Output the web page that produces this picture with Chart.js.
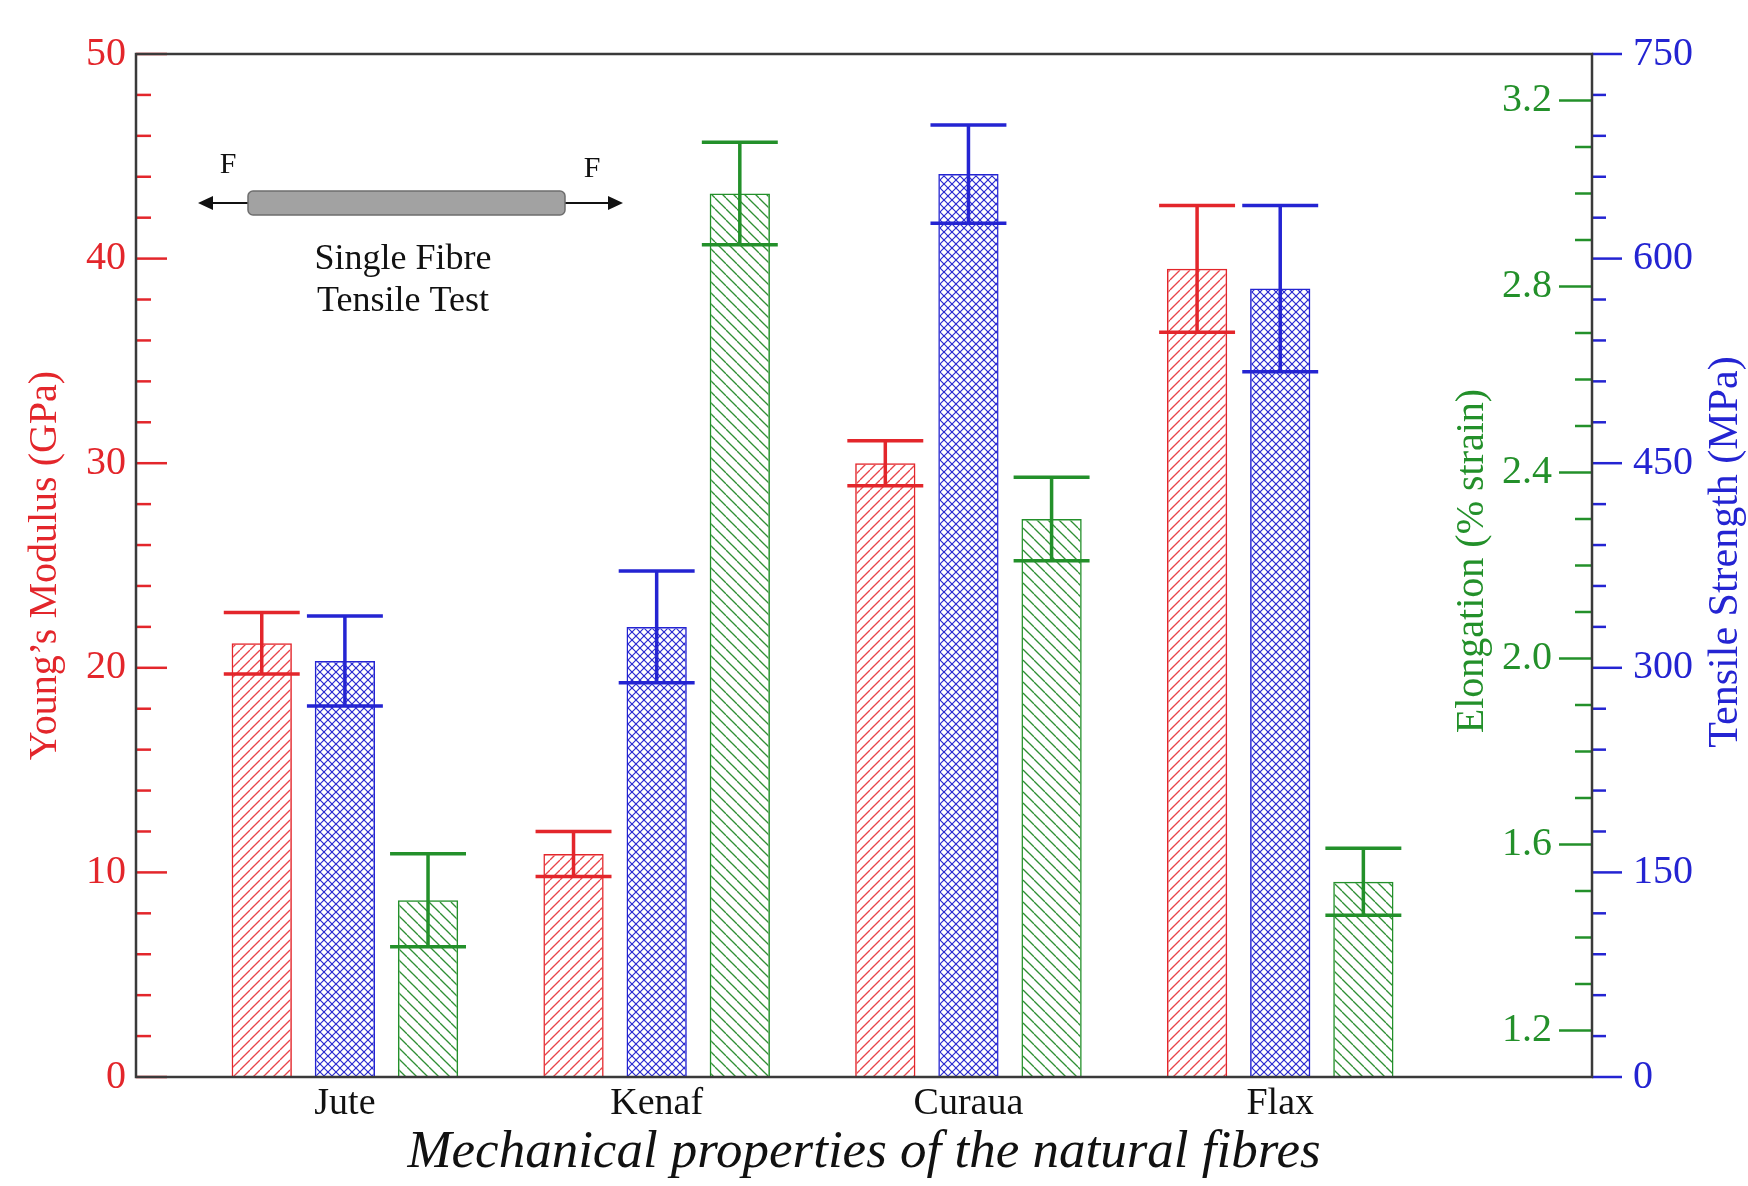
<!DOCTYPE html>
<html>
<head>
<meta charset="utf-8">
<title>Mechanical properties of the natural fibres</title>
<script src="https://cdn.jsdelivr.net/npm/chart.js@4.4.1/dist/chart.umd.min.js"></script>
<style>
    html, body { margin: 0; padding: 0; background: #fff; }
    #wrap { width: 1748px; height: 1186px; }
</style>
</head>
<body>
<div id="wrap"><canvas id="fibreChart" width="1748" height="1186"></canvas></div>
<script>
// Data
const categories = ['Jute', 'Kenaf', 'Curaua', 'Flax'];
const modulus = [21.2, 10.9, 30.0, 39.5];          // GPa
const modulusErr = [1.5, 1.1, 1.1, 3.1];
const strength = [305, 330, 662, 578];              // MPa
const strengthErr = [33, 41, 36, 61];
const elongation = [1.48, 3.0, 2.3, 1.52];          // % strain
const elongationErr = [0.1, 0.11, 0.09, 0.072];

const modulusTicks = [0, 10, 20, 30, 40, 50];
const strengthTicks = [0, 150, 300, 450, 600, 750];
const elongationTicks = [1.2, 1.6, 2.0, 2.4, 2.8, 3.2];

const RED = '#e3262b';
const BLUE = '#2424d2';
const GREEN = '#23902a';
const SERIF = "'Liberation Serif', 'DejaVu Serif', serif";

Chart.defaults.font.family = SERIF;

// Hatch fill, "/" or "\" lines in a square tile
function hatch(color, size, dirs, lw) {
    const c = document.createElement('canvas');
    c.width = size;
    c.height = size;
    const g = c.getContext('2d');
    g.strokeStyle = color;
    g.lineWidth = lw;
    dirs.forEach(d => {
        for (let k = -1; k <= 1; k++) {
            g.beginPath();
            if (d === '/') {
                g.moveTo(k * size, size);
                g.lineTo(k * size + size, 0);
            } else {
                g.moveTo(k * size, 0);
                g.lineTo(k * size + size, size);
            }
            g.stroke();
        }
    });
    return g.createPattern(c, 'repeat');
}

const pts = arr => arr.map((v, i) => ({ x: i, y: v }));

// Keep tick-label padding from pushing the plot area down
function fixWidth(w) {
    return s => {
        s.width = w;
        s.paddingTop = 0;
        s.paddingBottom = 0;
    };
}

// Error bars drawn through each dataset's own y scale
const errorBars = {
    id: 'errorBars',
    afterDatasetsDraw(chart) {
        const ctx = chart.ctx;
        chart.data.datasets.forEach((ds, di) => {
            const meta = chart.getDatasetMeta(di);
            const ys = chart.scales[ds.yAxisID];
            ctx.save();
            ctx.strokeStyle = ds.borderColor;
            ctx.lineWidth = 3.5;
            meta.data.forEach((bar, i) => {
                const v = ds.data[i].y;
                const e = ds.err[i];
                const yHi = ys.getPixelForValue(v + e);
                const yLo = ys.getPixelForValue(v - e);
                const half = bar.width * 0.63;
                ctx.beginPath();
                ctx.moveTo(bar.x, yHi);
                ctx.lineTo(bar.x, yLo);
                ctx.moveTo(bar.x - half, yHi);
                ctx.lineTo(bar.x + half, yHi);
                ctx.moveTo(bar.x - half, yLo);
                ctx.lineTo(bar.x + half, yLo);
                ctx.stroke();
            });
            ctx.restore();
        });
    }
};

// Frame, major/minor ticks, green axis inside the plot, right titles, inset sketch
const axesDecor = {
    id: 'axesDecor',
    beforeDraw(chart) {
        const ctx = chart.ctx;
        ctx.save();
        ctx.fillStyle = '#fff';
        ctx.fillRect(0, 0, chart.width, chart.height);
        ctx.restore();
    },
    afterDraw(chart) {
        const { ctx, chartArea: a, scales } = chart;
        ctx.save();

        ctx.lineWidth = 2.5;
        // red ticks, inward from the left axis
        ctx.strokeStyle = RED;
        for (let k = 0; k <= 25; k++) {
            const y = scales.yMod.getPixelForValue(k * 2);
            const len = k % 5 === 0 ? 31 : 15;
            ctx.beginPath();
            ctx.moveTo(a.left, y);
            ctx.lineTo(a.left + len, y);
            ctx.stroke();
        }
        // blue ticks, outward from the right axis
        ctx.strokeStyle = BLUE;
        for (let k = 0; k <= 25; k++) {
            const y = scales.yTs.getPixelForValue(k * 30);
            const len = k % 5 === 0 ? 30 : 14;
            ctx.beginPath();
            ctx.moveTo(a.right, y);
            ctx.lineTo(a.right + len, y);
            ctx.stroke();
        }
        // green ticks, inward from the right axis
        ctx.strokeStyle = GREEN;
        for (let k = 0; k <= 20; k++) {
            const y = scales.yEl.getPixelForValue(1.2 + k * 0.1);
            const len = k % 4 === 0 ? 33 : 17;
            ctx.beginPath();
            ctx.moveTo(a.right, y);
            ctx.lineTo(a.right - len, y);
            ctx.stroke();
        }
        ctx.fillStyle = GREEN;
        ctx.font = '40px ' + SERIF;
        ctx.textAlign = 'right';
        ctx.textBaseline = 'middle';
        elongationTicks.forEach(v => {
            ctx.fillText(v.toFixed(1), a.right - 40, scales.yEl.getPixelForValue(v));
        });

        // frame
        ctx.strokeStyle = '#3a3a3a';
        ctx.lineWidth = 2.5;
        ctx.strokeRect(a.left, a.top, a.right - a.left, a.bottom - a.top);

        // rotated titles on the right
        ctx.textAlign = 'center';
        ctx.save();
        ctx.translate(1472, 561);
        ctx.rotate(-Math.PI / 2);
        ctx.fillStyle = GREEN;
        ctx.font = '40px ' + SERIF;
        ctx.fillText('Elongation (% strain)', 0, 0);
        ctx.restore();
        ctx.save();
        ctx.translate(1726, 552);
        ctx.rotate(-Math.PI / 2);
        ctx.fillStyle = BLUE;
        ctx.font = '42px ' + SERIF;
        ctx.fillText('Tensile Strength (MPa)', 0, 0);
        ctx.restore();

        // inset: single fibre under tension
        ctx.strokeStyle = '#111';
        ctx.fillStyle = '#111';
        ctx.lineWidth = 2;
        ctx.beginPath();
        ctx.moveTo(205, 203);
        ctx.lineTo(248, 203);
        ctx.moveTo(565, 203);
        ctx.lineTo(616, 203);
        ctx.stroke();
        ctx.beginPath();
        ctx.moveTo(198, 203);
        ctx.lineTo(213, 196);
        ctx.lineTo(213, 210);
        ctx.closePath();
        ctx.fill();
        ctx.beginPath();
        ctx.moveTo(623, 203);
        ctx.lineTo(608, 196);
        ctx.lineTo(608, 210);
        ctx.closePath();
        ctx.fill();
        ctx.fillStyle = '#a2a2a2';
        ctx.strokeStyle = '#6e6e6e';
        ctx.lineWidth = 1.5;
        ctx.beginPath();
        ctx.roundRect(248, 191, 317, 24, 5);
        ctx.fill();
        ctx.stroke();

        ctx.fillStyle = '#111';
        ctx.font = '30px ' + SERIF;
        ctx.fillText('F', 228, 165);
        ctx.fillText('F', 592, 169);
        ctx.font = '36px ' + SERIF;
        ctx.fillText('Single Fibre', 403, 260);
        ctx.fillText('Tensile Test', 403, 302);

        ctx.restore();
    }
};

const ctx = document.getElementById('fibreChart');

new Chart(ctx, {
    type: 'bar',
    data: {
        datasets: [
            {
                label: 'Young’s Modulus (GPa)',
                data: pts(modulus),
                err: modulusErr,
                yAxisID: 'yMod',
                backgroundColor: hatch('#e8454a', 10, ['/'], 1.3),
                borderColor: RED,
                borderWidth: 1.5
            },
            {
                label: 'Tensile Strength (MPa)',
                data: pts(strength),
                err: strengthErr,
                yAxisID: 'yTs',
                backgroundColor: hatch('#2a2ad0', 8, ['/', '\\'], 1.2),
                borderColor: BLUE,
                borderWidth: 1.5
            },
            {
                label: 'Elongation (% strain)',
                data: pts(elongation),
                err: elongationErr,
                yAxisID: 'yEl',
                backgroundColor: hatch('#2f8f35', 11, ['\\'], 1.3),
                borderColor: GREEN,
                borderWidth: 1.5
            }
        ]
    },
    options: {
        responsive: false,
        animation: false,
        devicePixelRatio: 1,
        categoryPercentage: 0.8,
        barPercentage: 0.725,
        layout: { padding: { top: 54, left: 0, right: 0, bottom: 0 } },
        plugins: {
            legend: { display: false },
            tooltip: { enabled: false }
        },
        scales: {
            x: {
                type: 'linear',
                min: -0.67,
                max: 4.0,
                offset: false,
                afterBuildTicks: s => { s.ticks = categories.map((c, i) => ({ value: i })); },
                grid: { display: false, drawTicks: false },
                border: { display: false },
                ticks: {
                    callback: v => categories[v],
                    color: '#111',
                    font: { size: 38 },
                    padding: 4,
                    maxRotation: 0,
                    autoSkip: false
                },
                title: {
                    display: true,
                    text: 'Mechanical properties of the natural fibres',
                    color: '#111',
                    font: { size: 53, style: 'italic', lineHeight: 1 },
                    padding: { top: 0, bottom: 6 }
                },
                afterFit: s => { s.height = 109; }
            },
            yMod: {
                position: 'left',
                min: 0,
                max: 50,
                afterBuildTicks: s => { s.ticks = modulusTicks.map(v => ({ value: v })); },
                grid: { display: false, drawTicks: false },
                border: { display: false },
                ticks: { color: RED, font: { size: 40 }, padding: 10 },
                title: {
                    display: true,
                    text: 'Young’s Modulus (GPa)',
                    color: RED,
                    font: { size: 40, lineHeight: 1 },
                    padding: { top: 25, bottom: 0 }
                },
                afterFit: fixWidth(136)
            },
            yTs: {
                position: 'right',
                min: 0,
                max: 750,
                afterBuildTicks: s => { s.ticks = strengthTicks.map(v => ({ value: v })); },
                grid: { display: false, drawTicks: false },
                border: { display: false },
                ticks: { color: BLUE, font: { size: 40 }, padding: 41 },
                afterFit: fixWidth(156)
            },
            yEl: {
                position: 'right',
                display: false,
                min: 1.1,
                max: 3.3
            }
        }
    },
    plugins: [errorBars, axesDecor]
});
</script>
</body>
</html>
